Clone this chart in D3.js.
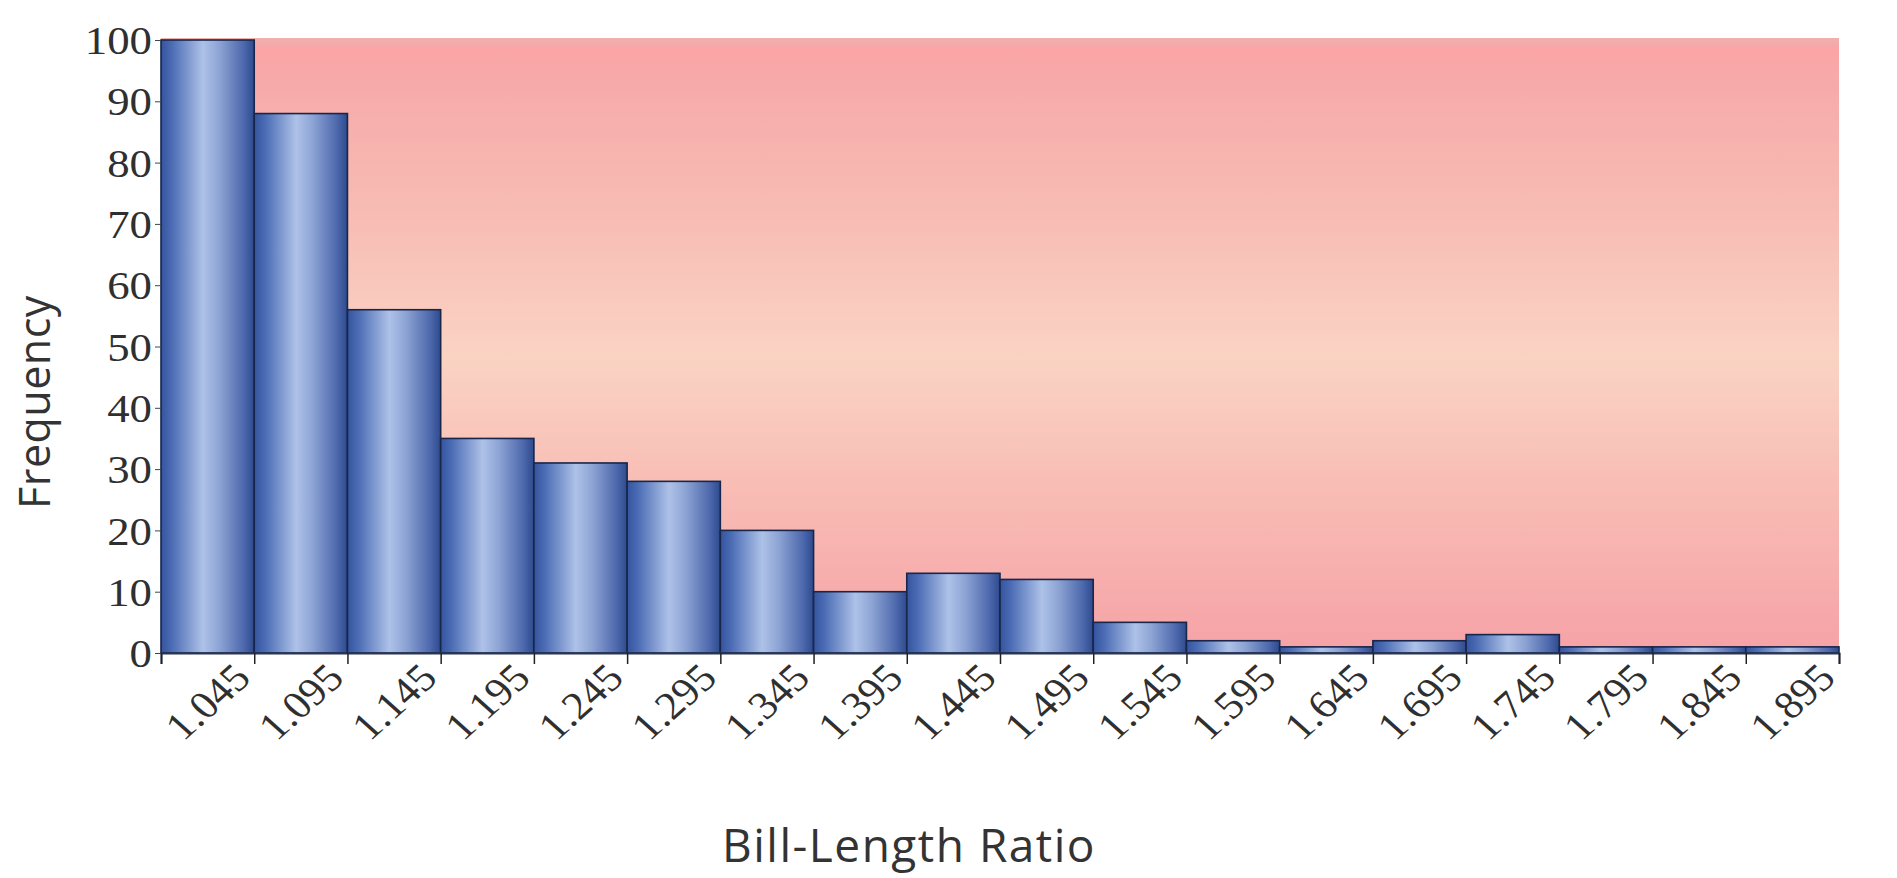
<!DOCTYPE html>
<html>
<head>
<meta charset="utf-8">
<script src="https://cdn.jsdelivr.net/npm/d3@7"></script>
<style>
  html, body { margin: 0; padding: 0; background: #fff; }
  .tick text { font-family: "Liberation Serif", serif; fill: #2f2f2f; }
  .axis-title { font-family: "Open Sans", sans-serif; fill: #333; }
</style>
</head>
<body>
<div id="chart"></div>
<script>
// histogram bins (edges) and counts
const binEdges = [0.995, 1.045, 1.095, 1.145, 1.195, 1.245, 1.295, 1.345, 1.395, 1.445,
  1.495, 1.545, 1.595, 1.645, 1.695, 1.745, 1.795, 1.845, 1.895];
const tickLabels = ['1.045', '1.095', '1.145', '1.195', '1.245', '1.295', '1.345', '1.395', '1.445',
  '1.495', '1.545', '1.595', '1.645', '1.695', '1.745', '1.795', '1.845', '1.895'];
const frequency = [100, 88, 56, 35, 31, 28, 20, 10, 13, 12, 5, 2, 1, 2, 3, 1, 1, 1];
const yTicks = [0, 10, 20, 30, 40, 50, 60, 70, 80, 90, 100];

const width = 1897, height = 878;
const margin = { top: 40, right: 58, bottom: 225, left: 161 };
const innerW = width - margin.left - margin.right;
const innerH = height - margin.top - margin.bottom;

const svg = d3.select('#chart').append('svg')
  .attr('width', width)
  .attr('height', height);

const defs = svg.append('defs');

const bg = defs.append('linearGradient')
  .attr('id', 'bg').attr('x1', 0).attr('y1', 0).attr('x2', 0).attr('y2', 1);
[[0, '#eeb0ae'], [0.02, '#fba4a6'], [0.08, '#f6abaa'], [0.3, '#f8bdb5'],
 [0.52, '#fad3c3'], [0.75, '#f8bbb4'], [1, '#f6a2a6']].forEach(s => {
  bg.append('stop').attr('offset', s[0]).attr('stop-color', s[1]);
});

const barGrad = defs.append('linearGradient')
  .attr('id', 'bar').attr('x1', 0).attr('y1', 0).attr('x2', 1).attr('y2', 0);
[[0, '#34559d'], [0.12, '#4c6db5'], [0.45, '#aec2e8'], [0.62, '#8ea5d5'],
 [0.88, '#4f6aae'], [1, '#2e4b8e']].forEach(s => {
  barGrad.append('stop').attr('offset', s[0]).attr('stop-color', s[1]);
});

const g = svg.append('g')
  .attr('transform', 'translate(' + margin.left + ',' + margin.top + ')');

const x = d3.scaleLinear()
  .domain([binEdges[0], binEdges[binEdges.length - 1]])
  .range([0, innerW]);

const y = d3.scaleLinear()
  .domain([0, 100])
  .range([innerH, 0]);

// plot background
g.append('rect')
  .attr('x', 0).attr('y', y(100) - 2)
  .attr('width', innerW).attr('height', innerH - y(100) + 2)
  .attr('fill', 'url(#bg)');

const bins = frequency.map(function (v, i) {
  return { x0: binEdges[i], x1: binEdges[i + 1], value: v };
});

g.selectAll('.bar')
  .data(bins)
  .enter().append('rect')
  .classed('bar', true)
  .attr('x', d => x(d.x0))
  .attr('y', d => y(d.value))
  .attr('width', d => x(d.x1) - x(d.x0))
  .attr('height', d => y(0) - y(d.value))
  .attr('fill', 'url(#bar)')
  .attr('stroke', '#17264a')
  .attr('stroke-width', 1.6);

// y axis
const yAxis = g.append('g')
  .call(d3.axisLeft(y).tickValues(yTicks).tickSize(6).tickPadding(0));
yAxis.select('.domain').remove();
yAxis.selectAll('.tick line').attr('stroke', '#444');
yAxis.selectAll('.tick text')
  .attr('x', 0)
  .attr('dy', '0.34em')
  .attr('transform', 'translate(-9,0) scale(1.12,1)')
  .style('font-size', '40px');

// x axis
const xAxis = g.append('g')
  .attr('transform', 'translate(0,' + innerH + ')')
  .call(d3.axisBottom(x).tickValues(binEdges).tickSize(11)
    .tickFormat((d, i) => i === 0 ? '' : tickLabels[i - 1]));
xAxis.select('.domain').attr('stroke', '#2a3550').attr('stroke-width', 2);
xAxis.selectAll('.tick line').attr('stroke', '#222').attr('stroke-width', 1.5);
xAxis.selectAll('.tick text')
  .attr('x', 0).attr('y', 0).attr('dy', 0)
  .attr('text-anchor', 'end')
  .attr('transform', 'translate(-2,27) scale(1.12,1) rotate(-45)')
  .style('font-size', '39px');

// axis titles
svg.append('text')
  .attr('class', 'axis-title')
  .attr('transform', 'translate(50,402) rotate(-90)')
  .attr('text-anchor', 'middle')
  .style('font-size', '43px')
  .style('letter-spacing', '0.5px')
  .text('Frequency');

svg.append('text')
  .attr('class', 'axis-title')
  .attr('x', 909).attr('y', 862)
  .attr('text-anchor', 'middle')
  .style('font-size', '46px')
  .style('letter-spacing', '1.5px')
  .text('Bill-Length Ratio');
</script>
</body>
</html>
